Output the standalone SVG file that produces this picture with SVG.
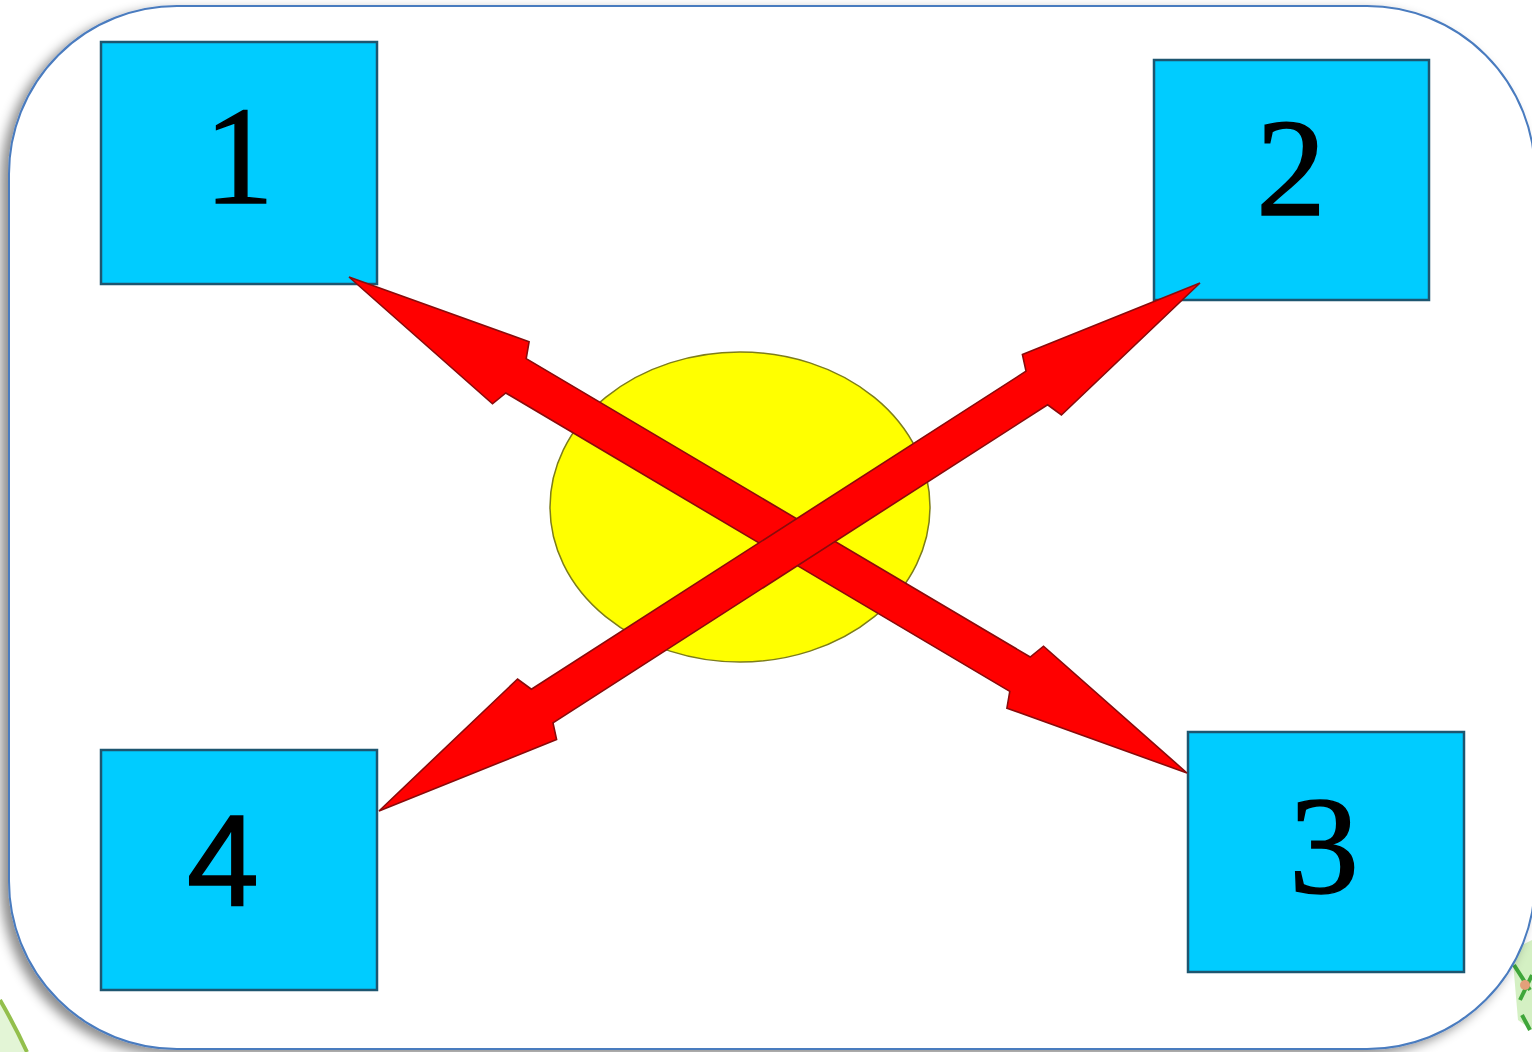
<svg xmlns="http://www.w3.org/2000/svg" width="1532" height="1052" viewBox="0 0 1532 1052">
  <style>
    .box { fill: #00CCFF; stroke: #1d5670; stroke-width: 2.5; }
    .num { fill: #000000; stroke: #000000; stroke-width: 1.5; text-anchor: middle; }
    .serif { font-family: "Liberation Serif", "Times New Roman", serif; font-size: 140px; }
    .sans { font-family: "Liberation Sans", Arial, sans-serif; font-size: 130px; }
    .arrow { fill: #FF0000; stroke: #8a0b0b; stroke-width: 1.6; stroke-linejoin: miter; }
  </style>
  <defs>
    <filter id="shadow" x="-5%" y="-5%" width="110%" height="110%">
      <feDropShadow dx="-7" dy="5" stdDeviation="6" flood-color="#000000" flood-opacity="0.45"/>
    </filter>
  </defs>
  <rect x="0" y="0" width="1532" height="1052" fill="#ffffff"/>
  <g id="decor">
    <path d="M0,1000 Q15,1026 27,1052 L0,1052 Z" fill="#e3f5d6"/>
    <path d="M0,1000 Q15,1026 27,1052" fill="none" stroke="#93bf4c" stroke-width="4"/>
    <path d="M1512,950 L1532,940 L1532,1030 L1518,1020 Z" fill="#c9ecb4" opacity="0.8"/>
    <path d="M1514,965 L1530,990 M1520,1000 L1532,975 M1522,1015 L1530,1030" stroke="#3fa63a" stroke-width="4" fill="none"/>
    <circle cx="1525" cy="985" r="5" fill="#e3a07a"/>
  </g>
  <g id="frame">
    <rect x="9" y="6" width="1526" height="1043" rx="168" ry="168" fill="#ffffff" stroke="#4a7bbf" stroke-width="2" filter="url(#shadow)"/>
  </g>
  <g id="center">
    <ellipse cx="740" cy="507" rx="190" ry="155" fill="#FFFF00" stroke="#7d7d1a" stroke-width="1.5"/>
  </g>
  <g id="node1">
    <rect class="box" x="101" y="42" width="276" height="242"/>
    <text class="num serif" x="239" y="203">1</text>
  </g>
  <g id="node2">
    <rect class="box" x="1154" y="60" width="275" height="240"/>
    <text class="num serif" x="1291" y="215">2</text>
  </g>
  <g id="node3">
    <rect class="box" x="1188" y="732" width="276" height="240"/>
    <text class="num serif" x="1324" y="893">3</text>
  </g>
  <g id="node4">
    <rect class="box" x="101" y="750" width="276" height="240"/>
    <text class="num sans" x="223" y="905">4</text>
  </g>
  <g id="connectors">
    <polygon class="arrow" points="349,277 529.1,341.8 526.2,358.6 1030.2,657.0 1043.5,646.2 1187,773 1006.9,708.2 1009.8,691.4 505.8,393.0 492.5,403.8"/>
    <polygon class="arrow" points="379,811 517.6,679.0 531.4,689.2 1026.0,371.2 1022.4,354.4 1200,283 1061.4,415.0 1047.6,404.8 553.0,722.8 556.6,739.6"/>
  </g>
</svg>
